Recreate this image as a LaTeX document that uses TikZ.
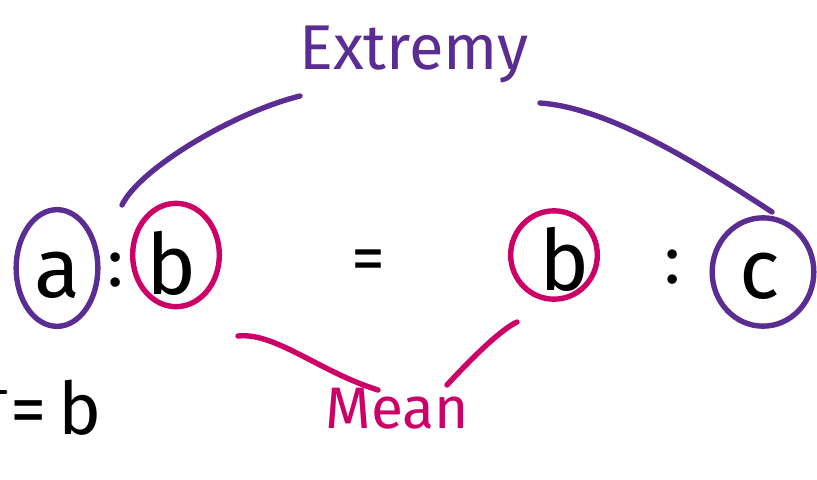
\documentclass[tikz,border=0pt]{standalone}
\usepackage{fontspec}
\setmainfont{Fira Sans}
\usetikzlibrary{shapes.geometric}
\definecolor{purp}{HTML}{5B2C91}
\definecolor{mag}{HTML}{CC0066}
\begin{document}
\begin{tikzpicture}[x=0.03cm,y=-0.03cm,
  ring/.style={draw,ellipse,line width=4.6pt,inner sep=0pt},
  pring/.style={ring,draw=purp},
  mring/.style={ring,draw=mag},
  letter/.style={font=\fontsize{72}{72}\selectfont,inner sep=0pt,anchor=base},
  sym/.style={font=\fontsize{58}{58}\selectfont,inner sep=0pt},
  pstroke/.style={draw=purp,line width=4.6pt,line cap=round},
  mstroke/.style={draw=mag,line width=4.6pt,line cap=round},
]
\useasboundingbox (0,0) rectangle (817,480);

% title
\node[font=\fontsize{54}{54}\selectfont,text=purp,inner sep=0pt,anchor=base] (extremy) at (414,70) {Extremy};

% rings
\node[pring,minimum width=2.45cm,minimum height=3.5cm] (ra) at (57,268) {};
\node[mring,minimum width=2.6cm,minimum height=3.1cm] (rb1) at (176,255) {};
\node[mring,minimum width=2.6cm,minimum height=2.65cm] (rb2) at (554,255) {};
\node[pring,minimum width=3.05cm,minimum height=3.25cm] (rc) at (763,272) {};

% letters
\node[letter] (la) at (57,297) {a};
\node[letter] (lb1) at (172,294) {b};
\node[letter] (lb2) at (565,290) {b};
\node[letter] (lc) at (760,298) {c};

% colons and equals
\node[sym] (col1) at (116,270) {:};
\node[sym] (eq) at (368,266) {=};
\node[sym] (col2) at (673,267) {:};

% connector endpoints
\coordinate (exl) at (300,96);
\coordinate (atop) at (122,205);
\coordinate (exr) at (540,103);
\coordinate (ctop) at (772,212);
\coordinate (b1bot) at (238,336);
\coordinate (meanl) at (378,390);
\coordinate (b2bot) at (517,322);
\coordinate (meanr) at (447,385);

\draw[pstroke] (exl) .. controls (235,112) and (140,168) .. (atop);
\draw[pstroke] (exr) .. controls (610,108) and (700,165) .. (ctop);
\draw[mstroke] (b1bot) .. controls (275,332) and (320,372) .. (meanl);
\draw[mstroke] (b2bot) .. controls (500,330) and (470,360) .. (meanr);

% Mean
\node[font=\fontsize{50}{50}\selectfont,text=mag,inner sep=0pt,anchor=base] (mean) at (397,428) {Mean};

% bottom left
\node[font=\fontsize{62}{62}\selectfont,inner sep=0pt,anchor=base] (eqb) at (56,434) {=\,b};
\coordinate (fr1) at (0,392);
\coordinate (fr2) at (5,392);
\draw[line width=4pt,line cap=round] (fr1) -- (fr2);
\end{tikzpicture}
\end{document}
